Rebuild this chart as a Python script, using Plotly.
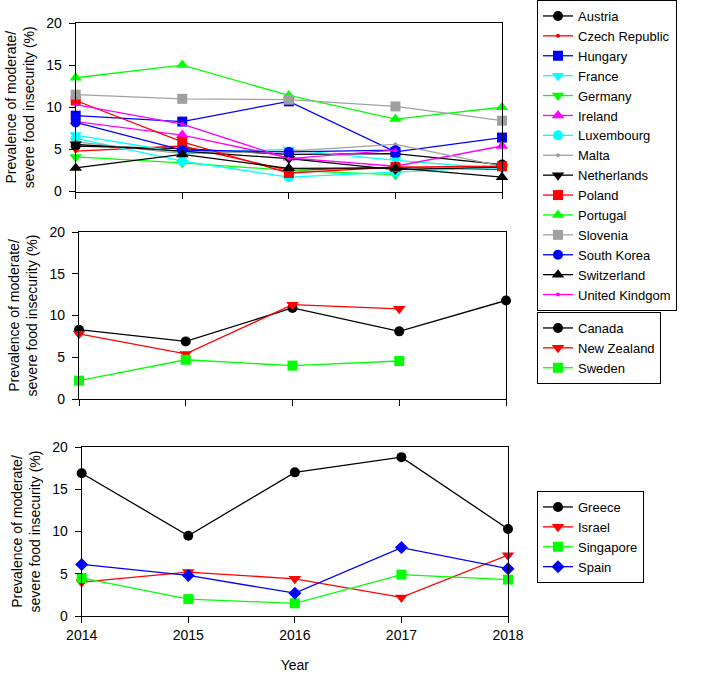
import plotly.graph_objects as go

years = [2014, 2015, 2016, 2017, 2018]

# Panel 1 (values in %)
austria = [5.4, 5.1, 4.4, 4.5, 3.2]
czech = [4.8, 5.4, 2.5, 2.9, 2.6]
hungary = [9.0, 8.3, 10.7, 4.7, 6.4]
france = [6.7, 4.6, 5.0, 3.7, 2.7]
germany = [4.1, 3.4, 2.5, 2.0, None]
ireland = [8.3, 6.7, 4.0, 3.0, 5.4]
luxembourg = [6.3, 3.6, 1.7, 2.3, 2.9]
malta = [5.9, 4.5, 4.8, 5.6, 3.0]
netherlands = [5.6, 4.8, 3.9, 2.6, 2.9]
poland = [10.8, 5.9, 2.2, 2.9, 3.0]
portugal = [13.5, 15.0, 11.4, 8.6, 10.0]
slovenia = [11.5, 11.0, 10.9, 10.1, 8.4]
south_korea = [8.2, 4.9, 4.7, 4.9, None]
switzerland = [2.8, 4.4, 2.75, 2.8, 1.7]
uk = [10.3, 8.0, 3.9, 4.9, None]

# Panel 2
canada = [8.3, 6.9, 10.9, 8.1, 11.8]
new_zealand = [7.8, 5.4, 11.3, 10.8, None]
sweden = [2.2, 4.7, 4.0, 4.55, None]

# Panel 3
greece = [16.9, 9.5, 17.0, 18.8, 10.3]
israel = [4.0, 5.2, 4.4, 2.2, 7.2]
singapore = [4.5, 2.0, 1.5, 4.9, 4.3]
spain = [6.1, 4.8, 2.7, 8.1, 5.6]

GREY = "#a0a0a0"
panel1 = [
    ("Austria", austria, "black", "circle", 10),
    ("Czech Republic", czech, "red", "circle", 4),
    ("Hungary", hungary, "blue", "square", 10),
    ("France", france, "cyan", "triangle-down", 11),
    ("Germany", germany, "#00ff00", "triangle-down", 11),
    ("Ireland", ireland, "magenta", "triangle-up", 11),
    ("Luxembourg", luxembourg, "cyan", "circle", 10),
    ("Malta", malta, GREY, "circle", 4),
    ("Netherlands", netherlands, "black", "triangle-down", 11),
    ("Poland", poland, "red", "square", 10),
    ("Portugal", portugal, "#00ff00", "triangle-up", 11),
    ("Slovenia", slovenia, GREY, "square", 10),
    ("South Korea", south_korea, "blue", "circle", 10),
    ("Switzerland", switzerland, "black", "triangle-up", 11),
    ("United Kindgom", uk, "magenta", "circle", 4),
]
panel2 = [
    ("Canada", canada, "black", "circle", 10),
    ("New Zealand", new_zealand, "red", "triangle-down", 11),
    ("Sweden", sweden, "#00ff00", "square", 10),
]
panel3 = [
    ("Greece", greece, "black", "circle", 10),
    ("Israel", israel, "red", "triangle-down", 11),
    ("Singapore", singapore, "#00ff00", "square", 10),
    ("Spain", spain, "blue", "diamond", 10),
]

fig = go.Figure()
for i, (panel, leg) in enumerate([(panel1, "legend"), (panel2, "legend2"), (panel3, "legend3")]):
    ax = "" if i == 0 else str(i + 1)
    for name, vals, col, sym, sz in panel:
        fig.add_trace(go.Scatter(
            x=years, y=vals, name=name, mode="lines+markers",
            line=dict(color=col, width=1.3),
            marker=dict(color=col, symbol=sym, size=sz),
            xaxis="x" + ax, yaxis="y" + ax, legend=leg, cliponaxis=False,
        ))

W, H = 709, 673
FAM = "Liberation Sans, Arial"
font = dict(family=FAM, size=14, color="black")
ytitle = "Prevalence of moderate/<br>severe food insecurity (%)"

def xa(dom, anchor, labels, title=None):
    d = dict(domain=[dom[0] / W, dom[1] / W], range=[2014, 2018], tickvals=years,
             showticklabels=labels, ticks="outside", ticklen=6, tickcolor="black",
             showline=True, linecolor="black", linewidth=1.3, mirror=True,
             showgrid=False, zeroline=False, tickfont=font, anchor=anchor,
             automargin=False)
    if title:
        d["title"] = dict(text=title, font=font, standoff=20)
    return d

def ya(top, bot, anchor):
    return dict(domain=[1 - bot / H, 1 - top / H], range=[0, 20], dtick=5,
                ticks="outside", ticklen=6, tickcolor="black", ticklabelstandoff=4,
                showline=True, linecolor="black", linewidth=1.3, mirror=True,
                showgrid=False, zeroline=False, tickfont=font, anchor=anchor,
                automargin=False,
                title=dict(text=ytitle, font=font, standoff=8))

legstyle = dict(bordercolor="black", borderwidth=1, bgcolor="white",
                font=dict(family=FAM, size=13, color="black"),
                xanchor="left", yanchor="top", tracegroupgap=0)

fig.update_layout(
    width=W, height=H, margin=dict(l=0, r=0, t=0, b=0, autoexpand=False),
    paper_bgcolor="white", plot_bgcolor="white", font=font,
    xaxis=xa((75.7, 502), "y", False),
    xaxis2=xa((79, 506), "y2", False),
    xaxis3=xa((81.7, 508), "y3", True, "Year"),
    yaxis=ya(23, 191.5, "x"),
    yaxis2=ya(232, 399, "x2"),
    yaxis3=ya(447, 616, "x3"),
    legend=dict(legstyle, x=537 / W, y=1.0),
    legend2=dict(legstyle, x=537 / W, y=1 - 312 / H),
    legend3=dict(legstyle, x=537 / W, y=1 - 491 / H),
)

fig.write_html("out.html", config={"displayModeBar": False},
               post_script="document.body.style.margin='0';")
